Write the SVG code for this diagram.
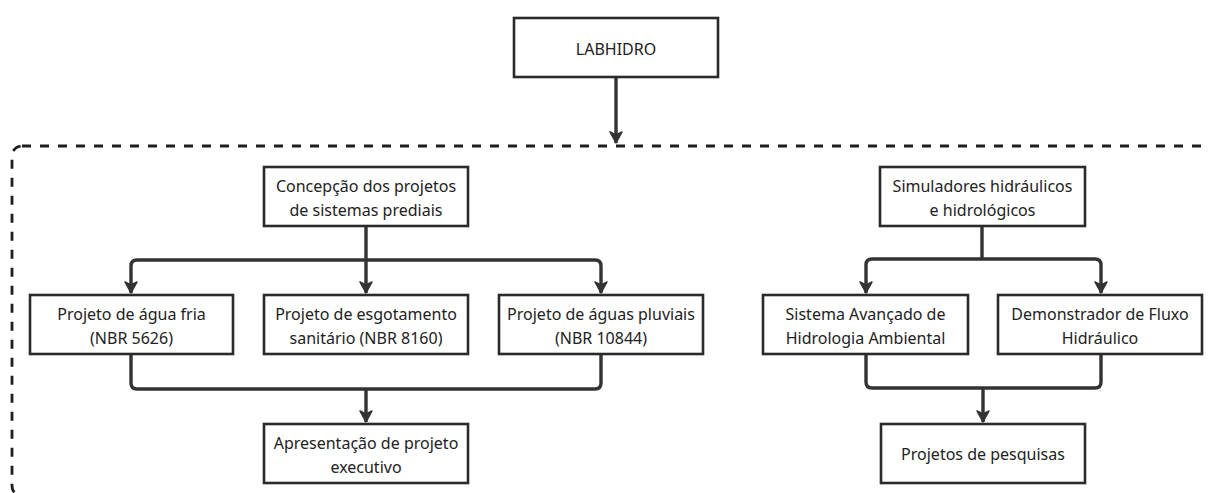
<svg xmlns="http://www.w3.org/2000/svg" width="1210" height="493" viewBox="0 0 1210 493">
<style>
.box{fill:#fff;stroke:#2b2b2b;stroke-width:2.6}
.t{font-family:"Noto Sans","Open Sans",sans-serif;font-size:16px;fill:#222;text-anchor:middle}
.c{fill:none;stroke:#333;stroke-width:3.4}
.dash{fill:none;stroke:#1e1e1e;stroke-width:2.8;stroke-dasharray:9 9}
</style>
<defs>
<marker id="ah" markerUnits="userSpaceOnUse" markerWidth="14" markerHeight="14" viewBox="0 0 14 14" refX="12" refY="7" orient="auto">
<path d="M1,1 L12,7 L1,13 L4,7 z" fill="#333" stroke="#333" stroke-width="1.5" stroke-linejoin="round"/>
</marker>
</defs>
<rect class="dash" x="12" y="146" width="1230" height="350" rx="10"/>
<g id="connectors">
<path class="c" d="M616 77 V143" marker-end="url(#ah)"/>
<path class="c" d="M366 226 V293" marker-end="url(#ah)"/>
<path class="c" d="M366 260 H137 Q131 260 131 266 V293" marker-end="url(#ah)"/>
<path class="c" d="M366 260 H595 Q601 260 601 266 V293" marker-end="url(#ah)"/>
<path class="c" d="M131 354 V383 Q131 389 137 389 H595 Q601 389 601 383 V354"/>
<path class="c" d="M366 389 V422" marker-end="url(#ah)"/>
<path class="c" d="M982 226 V259"/>
<path class="c" d="M982 259 H872 Q866 259 866 265 V293" marker-end="url(#ah)"/>
<path class="c" d="M982 259 H1095 Q1101 259 1101 265 V293" marker-end="url(#ah)"/>
<path class="c" d="M866 354 V382 Q866 388 872 388 H1095 Q1101 388 1101 382 V354"/>
<path class="c" d="M983 388 V422" marker-end="url(#ah)"/>
</g>
<g id="labhidro"><rect class="box" x="514" y="18" width="204" height="59"/><text class="t" x="616" y="55">LABHIDRO</text></g>
<g id="concepcao"><rect class="box" x="264" y="167" width="204" height="59"/><text class="t" x="366" y="192">Concepção dos projetos</text><text class="t" x="366" y="216">de sistemas prediais</text></g>
<g id="agua-fria"><rect class="box" x="30" y="295" width="203" height="59"/><text class="t" x="131.5" y="320">Projeto de água fria</text><text class="t" x="131.5" y="344">(NBR 5626)</text></g>
<g id="esgotamento"><rect class="box" x="264" y="295" width="204" height="59"/><text class="t" x="366" y="320">Projeto de esgotamento</text><text class="t" x="366" y="344">sanitário (NBR 8160)</text></g>
<g id="pluviais"><rect class="box" x="499" y="295" width="204" height="59"/><text class="t" x="601" y="320">Projeto de águas pluviais</text><text class="t" x="601" y="344">(NBR 10844)</text></g>
<g id="apresentacao"><rect class="box" x="264" y="424" width="204" height="59"/><text class="t" x="366" y="449">Apresentação de projeto</text><text class="t" x="366" y="473">executivo</text></g>
<g id="simuladores"><rect class="box" x="880" y="167" width="205" height="59"/><text class="t" x="982.5" y="192">Simuladores hidráulicos</text><text class="t" x="982.5" y="216">e hidrológicos</text></g>
<g id="sistema"><rect class="box" x="763" y="295" width="205" height="59"/><text class="t" x="865.5" y="320">Sistema Avançado de</text><text class="t" x="865.5" y="344">Hidrologia Ambiental</text></g>
<g id="demonstrador"><rect class="box" x="998" y="295" width="204" height="59"/><text class="t" x="1100" y="320">Demonstrador de Fluxo</text><text class="t" x="1100" y="344">Hidráulico</text></g>
<g id="pesquisas"><rect class="box" x="881" y="424" width="204" height="59"/><text class="t" x="983" y="460">Projetos de pesquisas</text></g>
</svg>
